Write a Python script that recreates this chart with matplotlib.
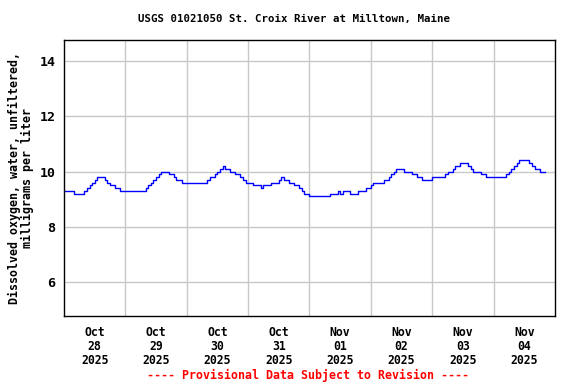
import numpy as np
import pandas as pd
import matplotlib
matplotlib.use("Agg")
import matplotlib.pyplot as plt
import matplotlib.dates as mdates

# hourly dissolved oxygen readings (mg/L), starting Oct 28 2025 00:00
oct28 = [9.3, 9.3, 9.3, 9.3, 9.2, 9.2, 9.2, 9.2, 9.3, 9.4, 9.5, 9.6,
         9.7, 9.8, 9.8, 9.8, 9.7, 9.6, 9.5, 9.5, 9.4, 9.4, 9.3, 9.3]
oct29 = [9.3, 9.3, 9.3, 9.3, 9.3, 9.3, 9.3, 9.3, 9.4, 9.5, 9.6, 9.7,
         9.8, 9.9, 10.0, 10.0, 10.0, 9.9, 9.9, 9.8, 9.7, 9.7, 9.6, 9.6]
oct30 = [9.6, 9.6, 9.6, 9.6, 9.6, 9.6, 9.6, 9.6, 9.7, 9.8, 9.8, 9.9,
         10.0, 10.1, 10.2, 10.1, 10.1, 10.0, 10.0, 9.9, 9.9, 9.8, 9.7, 9.6]
oct31 = [9.6, 9.6, 9.5, 9.5, 9.5, 9.4, 9.5, 9.5, 9.5, 9.6, 9.6, 9.6,
         9.7, 9.8, 9.7, 9.7, 9.6, 9.6, 9.5, 9.5, 9.4, 9.3, 9.2, 9.2]
nov01 = [9.1, 9.1, 9.1, 9.1, 9.1, 9.1, 9.1, 9.1, 9.2, 9.2, 9.2, 9.3,
         9.2, 9.3, 9.3, 9.3, 9.2, 9.2, 9.2, 9.3, 9.3, 9.3, 9.4, 9.4]
nov02 = [9.5, 9.6, 9.6, 9.6, 9.6, 9.7, 9.7, 9.8, 9.9, 10.0, 10.1, 10.1,
         10.1, 10.0, 10.0, 10.0, 9.9, 9.9, 9.8, 9.8, 9.7, 9.7, 9.7, 9.7]
nov03 = [9.8, 9.8, 9.8, 9.8, 9.8, 9.9, 10.0, 10.0, 10.1, 10.2, 10.2, 10.3,
         10.3, 10.3, 10.2, 10.1, 10.0, 10.0, 10.0, 9.9, 9.9, 9.8, 9.8, 9.8]
nov04 = [9.8, 9.8, 9.8, 9.8, 9.8, 9.9, 10.0, 10.1, 10.2, 10.3, 10.4, 10.4,
         10.4, 10.4, 10.3, 10.2, 10.1, 10.1, 10.0, 10.0, 10.0]

values = oct28 + oct29 + oct30 + oct31 + nov01 + nov02 + nov03 + nov04
times = pd.date_range("2025-10-28 00:00", periods=len(values), freq="h")

day_labels = ["Oct\n28\n2025", "Oct\n29\n2025", "Oct\n30\n2025", "Oct\n31\n2025",
              "Nov\n01\n2025", "Nov\n02\n2025", "Nov\n03\n2025", "Nov\n04\n2025"]
noons = pd.date_range("2025-10-28 12:00", periods=8, freq="D")
midnights = pd.date_range("2025-10-29 00:00", periods=7, freq="D")

font = "DejaVu Sans Mono"

fig = plt.figure(figsize=(5.76, 3.84), dpi=100)
ax = fig.add_axes([0.111, 0.177, 0.8525, 0.7188])

ax.plot(times, values, color="#0000ff", linewidth=1.0, drawstyle="steps-post")

ax.set_xlim(pd.Timestamp("2025-10-28 00:00"), pd.Timestamp("2025-11-05 00:00"))
ax.set_ylim(4.77, 14.76)

ax.set_xticks(noons)
ax.set_xticklabels(day_labels, family=font, fontweight="bold", fontsize=8.3,
                   linespacing=1.1)
ax.set_xticks(midnights, minor=True)
ax.set_yticks([6, 8, 10, 12, 14])
ax.set_yticklabels(["6", "8", "10", "12", "14"], family=font,
                   fontweight="bold", fontsize=9.5)
ax.tick_params(which="both", length=0)
ax.tick_params(axis="x", pad=7)
ax.tick_params(axis="y", pad=6)

ax.grid(False)
ax.grid(True, which="minor", axis="x", color="#c8c8c8", linewidth=1)
ax.grid(True, which="major", axis="y", color="#c8c8c8", linewidth=1)
ax.set_axisbelow(True)
for s in ax.spines.values():
    s.set_linewidth(1.0)
    s.set_color("black")

ax.set_ylabel("Dissolved oxygen, water, unfiltered,\nmilligrams per liter",
              family=font, fontweight="bold", fontsize=8.4, linespacing=1.0,
              labelpad=4)

fig.text(294 / 576, 1 - 19 / 384, "USGS 01021050 St. Croix River at Milltown, Maine",
         family=font, fontweight="bold", fontsize=7.75, ha="center", va="center")
fig.text(308 / 576, 1 - 375 / 384, "---- Provisional Data Subject to Revision ----",
         family=font, fontweight="bold", fontsize=8.4, color="red",
         ha="center", va="center")

fig.savefig("out.png", dpi=100)
